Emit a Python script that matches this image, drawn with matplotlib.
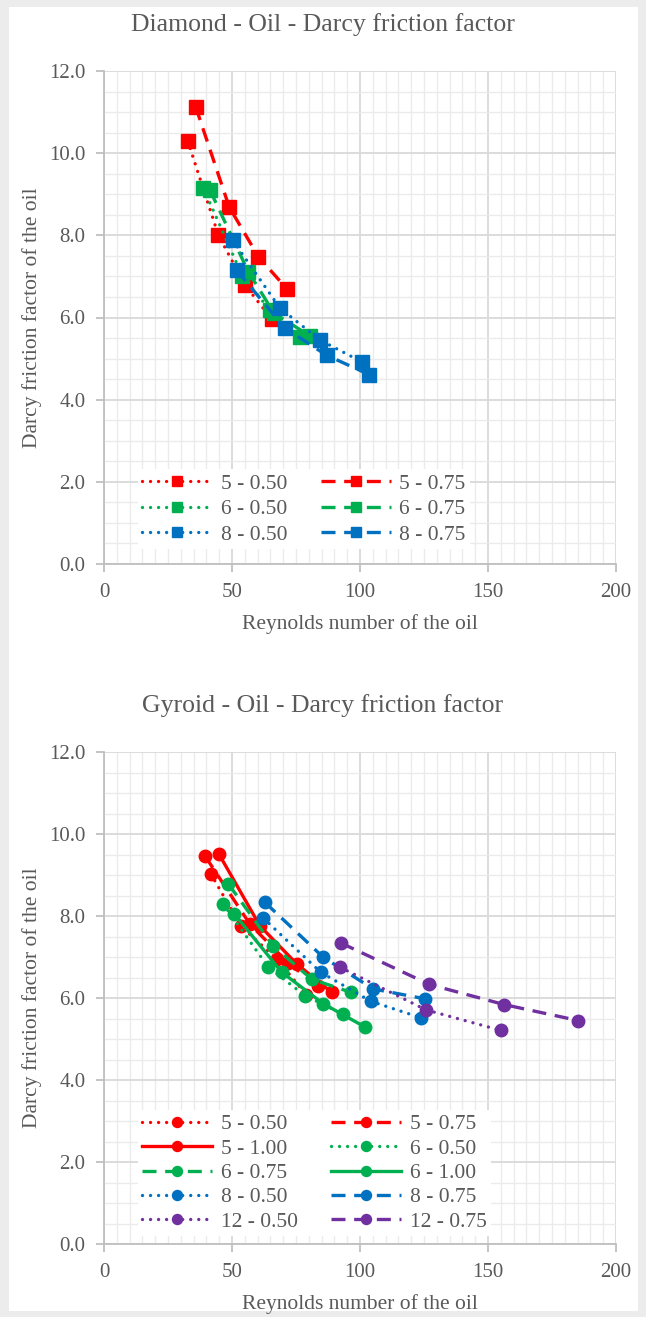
import numpy as np
import matplotlib.pyplot as plt
from matplotlib.patches import Rectangle

plt.rcParams['font.family'] = ['Liberation Serif', 'DejaVu Serif']

RED, GREEN, BLUE, PURPLE = '#FF0000', '#00B050', '#0070C0', '#7030A0'
TXT = '#595959'

# Diamond - Oil  (Reynolds, Darcy friction factor)
dia_labels = ['5 - 0.50', '5 - 0.75', '6 - 0.50', '6 - 0.75', '8 - 0.50', '8 - 0.75']
dia_re = [
    [32.7, 44.7, 55.1, 65.5],
    [35.8, 48.9, 60.3, 71.4],
    [38.8, 54.0, 64.8, 76.6],
    [41.4, 56.4, 66.5, 80.5],
    [50.3, 68.7, 84.4, 100.7],
    [51.8, 70.7, 87.0, 103.6],
]
dia_f = [
    [10.30, 8.00, 6.79, 5.96],
    [11.13, 8.69, 7.48, 6.70],
    [9.15, 7.02, 6.18, 5.53],
    [9.10, 7.11, 6.10, 5.55],
    [7.88, 6.23, 5.45, 4.92],
    [7.15, 5.74, 5.08, 4.61],
]
dia_colors = [RED, RED, GREEN, GREEN, BLUE, BLUE]
dia_styles = ['dot', 'dash', 'dot', 'dash', 'dot', 'dash']

# Gyroid - Oil
gyr_labels = ['5 - 0.50', '5 - 0.75', '5 - 1.00', '6 - 0.50', '6 - 0.75',
              '6 - 1.00', '8 - 0.50', '8 - 0.75', '12 - 0.50', '12 - 0.75']
gyr_re = [
    [41.7, 53.5, 67.5, 79.0],
    [39.5, 57.0, 72.0, 83.5],
    [44.9, 60.9, 75.3, 88.9],
    [46.6, 64.2, 78.5, 93.5],
    [48.6, 66.1, 81.1, 96.4],
    [50.8, 69.4, 85.7, 102.0],
    [62.2, 84.6, 104.2, 123.7],
    [62.9, 85.7, 105.2, 125.4],
    [92.2, 125.8, 155.0],
    [92.6, 127.1, 156.3, 185.2],
]
gyr_f = [
    [9.03, 7.75, 6.95, 6.08],
    [9.46, 7.80, 6.85, 6.30],
    [9.51, 7.76, 6.83, 6.14],
    [8.29, 6.75, 6.06, 5.60],
    [8.78, 7.27, 6.46, 6.14],
    [8.06, 6.63, 5.86, 5.29],
    [7.95, 6.63, 5.92, 5.52],
    [8.33, 6.99, 6.22, 5.98],
    [6.75, 5.71, 5.21],
    [7.34, 6.33, 5.84, 5.45],
]
gyr_colors = [RED, RED, RED, GREEN, GREEN, GREEN, BLUE, BLUE, PURPLE, PURPLE]
gyr_styles = ['dot', 'dash', 'solid', 'dot', 'dash', 'solid', 'dot', 'dash', 'dot', 'dash']

LS = {'dot': (0, (0.01, 2.4)), 'dash': (0, (4.2, 2.6)), 'solid': '-'}

fig = plt.figure(figsize=(6.46, 13.17), dpi=100)
fig.patch.set_facecolor('#ececec')
fig.patches.append(Rectangle((9 / 646, 1 - 1311 / 1317), 629 / 646, 1304 / 1317,
                             transform=fig.transFigure, facecolor='white',
                             edgecolor='none', zorder=-10))


def draw(ax, title, labels, xs, ys, colors, styles, marker, leg_anchor, lspace):
    handles = []
    for lab, x, y, c, s in zip(labels, xs, ys, colors, styles):
        h, = ax.plot(x, y, color=c, linestyle=LS[s], lw=2.4, marker=marker,
                     markersize=9.5 if marker == 's' else 9,
                     dash_capstyle='round' if s == 'dot' else 'butt',
                     label=lab, clip_on=False, zorder=3)
        handles.append(h)
    ax.set_xlim(0, 200)
    ax.set_ylim(0, 12)
    ax.set_xticks(np.arange(0, 201, 50))
    ax.set_yticks(np.arange(0, 12.1, 2))
    ax.set_yticklabels([f'{v:.1f}' for v in np.arange(0, 12.1, 2)])
    ax.set_xticks(np.arange(0, 201, 5), minor=True)
    ax.set_yticks(np.arange(0, 12.01, 0.5), minor=True)
    ax.grid(which='major', color='#d9d9d9', lw=1.3, zorder=0)
    ax.grid(which='minor', color='#ebebeb', lw=1.0, zorder=0)
    ax.set_axisbelow(True)
    for sp in ['top', 'right']:
        ax.spines[sp].set_visible(False)
    for sp in ['left', 'bottom']:
        ax.spines[sp].set_color('#bfbfbf')
        ax.spines[sp].set_linewidth(1.3)
    ax.tick_params(which='major', length=6, color='#bfbfbf', width=1.3,
                   labelsize=15, labelcolor=TXT)
    ax.tick_params(axis='x', pad=8)
    ax.tick_params(axis='y', pad=7.5)
    ax.tick_params(which='minor', length=0)
    ax.set_title(title, fontsize=18.5, color=TXT, pad=28.5, x=0.427)
    ax.set_xlabel('Reynolds number of the oil', fontsize=15.5, color=TXT, labelpad=8.5)
    ax.set_ylabel('Darcy friction factor of the oil', fontsize=15.5, color=TXT, labelpad=5)
    # Excel fills the legend row by row
    order = handles[0::2] + handles[1::2]
    leg = ax.legend(handles=order, ncol=2, loc='lower left', bbox_to_anchor=leg_anchor,
                    fontsize=15.5, handlelength=3.25, handletextpad=0.4,
                    columnspacing=1.55, labelspacing=lspace, borderpad=0.2,
                    borderaxespad=0, frameon=True, fancybox=False, markerscale=0.8,
                    framealpha=1, facecolor='white', edgecolor='none', numpoints=1)
    for t in leg.get_texts():
        t.set_color(TXT)


ax1 = fig.add_axes([104 / 646, 1 - 564 / 1317, 512 / 646, 493 / 1317])
draw(ax1, 'Diamond - Oil - Darcy friction factor', dia_labels, dia_re, dia_f,
     dia_colors, dia_styles, 's', (0.066, 0.030), 0.26)

ax2 = fig.add_axes([104 / 646, 1 - 1244 / 1317, 512 / 646, 492 / 1317])
draw(ax2, 'Gyroid - Oil - Darcy friction factor', gyr_labels, gyr_re, gyr_f,
     gyr_colors, gyr_styles, 'o', (0.066, 0.016), 0.2)

fig.savefig('out.png', dpi=100)
